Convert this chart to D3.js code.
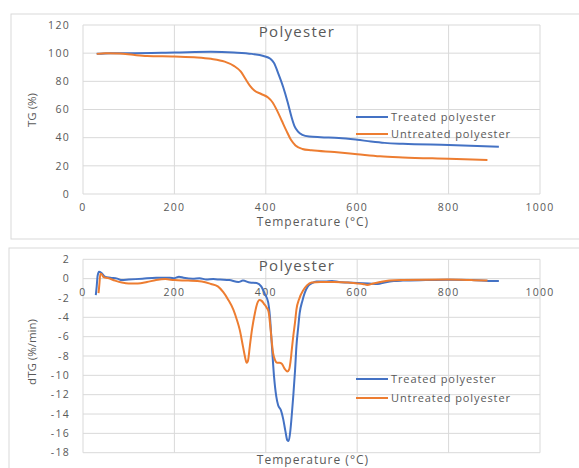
<!DOCTYPE html>
<html>
<head>
<meta charset="utf-8">
<script src="https://cdn.jsdelivr.net/npm/d3@7"></script>
<style>
  body { margin: 0; background: #fff; }
  svg { display: block; font-family: "Open Sans", sans-serif; }
</style>
</head>
<body>
<svg id="chart" width="579" height="468"></svg>
<script>
// series names and colours
const seriesNames = ["Treated polyester", "Untreated polyester"];
const seriesColors = ["#4472C4", "#ED7D31"];

// axis ticks
const xTicks = [0, 200, 400, 600, 800, 1000];
const tgTicks = [0, 20, 40, 60, 80, 100, 120];
const dtgTicks = [2, 0, -2, -4, -6, -8, -10, -12, -14, -16, -18];

// TG curves, [temperature, TG %]
const tgTreated = [
  [30, 99.5], [60, 100], [100, 100], [200, 100.5], [280, 101], [330, 100.5],
  [370, 99.5], [395, 98], [410, 96], [418, 93], [428, 85], [438, 76],
  [448, 65], [456, 55], [463, 48], [470, 44.5], [480, 42], [495, 40.8],
  [520, 40.3], [560, 39.8], [600, 38.5], [630, 37.3], [660, 36.3],
  [700, 35.6], [800, 34.8], [910, 33.6]
];
const tgUntreated = [
  [30, 99.5], [50, 100], [80, 99.8], [110, 98.8], [140, 98], [200, 97.6],
  [250, 97], [280, 96], [310, 94], [330, 91], [345, 87], [355, 82],
  [365, 77], [375, 73.5], [390, 71], [405, 68.5], [415, 65], [425, 59],
  [435, 52], [445, 45], [455, 38.5], [465, 34.5], [480, 32], [500, 31],
  [550, 29.8], [600, 28.3], [650, 26.8], [700, 26], [800, 25], [885, 24.1]
];

// dTG curves, [temperature, dTG %/min]
const dtgTreated = [
  [28, -1.7], [30, -0.8], [32, 0.3], [35, 0.7], [40, 0.6], [48, 0.2],
  [60, 0.1], [75, 0], [85, -0.15], [100, -0.1], [130, 0], [160, 0.1],
  [190, 0.1], [200, 0.05], [210, 0.2], [220, 0.1], [240, 0], [255, 0.05],
  [270, -0.1], [285, -0.05], [300, -0.1], [320, -0.15], [340, -0.35],
  [350, -0.2], [365, -0.4], [380, -0.45], [390, -0.8], [398, -1.6],
  [405, -2.4], [409, -3.9], [413, -6.7], [418, -10.1], [423, -12.2],
  [427, -13.1], [433, -13.6], [438, -14.5], [443, -15.8], [447, -16.7],
  [450, -16.8], [454, -15.6], [457, -14], [460, -12.2], [464, -9.5],
  [467, -7], [471, -5], [474, -3.6], [480, -2.3], [485, -1.5], [492, -0.8],
  [500, -0.5], [511, -0.3], [530, -0.3], [545, -0.25], [560, -0.35],
  [580, -0.4], [600, -0.45], [625, -0.5], [645, -0.55], [660, -0.4],
  [680, -0.25], [700, -0.2], [750, -0.15], [800, -0.12], [850, -0.15],
  [900, -0.25], [910, -0.25]
];
const dtgUntreated = [
  [34, -1.5], [36, -0.5], [38, 0.5], [41, 0.45], [45, 0.15], [55, 0.05],
  [70, -0.2], [85, -0.4], [100, -0.5], [120, -0.5], [140, -0.35],
  [160, -0.15], [180, -0.05], [200, -0.15], [230, -0.2], [260, -0.3],
  [280, -0.55], [295, -0.8], [307, -1.4], [318, -2.2], [329, -3.2],
  [337, -4.3], [343, -5.3], [350, -7], [355, -8.2], [358, -8.7],
  [361, -8.5], [365, -7], [370, -5.2], [376, -3.6], [381, -2.6],
  [386, -2.2], [391, -2.3], [396, -2.6], [402, -3], [406, -3.4],
  [410, -5], [413, -6.5], [416, -7.7], [420, -8.4], [425, -8.7],
  [430, -8.7], [435, -8.8], [441, -9.3], [447, -9.6], [451, -9.4],
  [454, -8.6], [457, -7.3], [460, -6], [464, -4.5], [467, -3.2],
  [473, -2.1], [482, -1.2], [490, -0.7], [500, -0.4], [520, -0.35],
  [550, -0.35], [580, -0.4], [600, -0.5], [612, -0.55], [622, -0.65],
  [635, -0.5], [650, -0.35], [670, -0.2], [700, -0.15], [800, -0.1],
  [850, -0.15], [885, -0.2]
];

const svg = d3.select("#chart");
const grid = "#d9d9d9", textCol = "#595959";

function drawChart(cfg) {
  const g = svg.append("g");

  // chart area frame
  g.append("rect")
    .attr("x", cfg.frame[0]).attr("y", cfg.frame[1])
    .attr("width", cfg.frame[2]).attr("height", cfg.frame[3])
    .attr("fill", "#fff").attr("stroke", "#d9d9d9");

  const x = d3.scaleLinear().domain([0, 1000]).range([83, 540]);
  const y = d3.scaleLinear().domain(cfg.yDomain).range(cfg.yRange);

  // gridlines
  g.append("g").selectAll("line").data(cfg.yTicks).join("line")
    .attr("x1", x(0)).attr("x2", x(1000))
    .attr("y1", d => y(d)).attr("y2", d => y(d))
    .attr("stroke", grid);
  g.append("g").selectAll("line").data(xTicks).join("line")
    .attr("x1", d => x(d)).attr("x2", d => x(d))
    .attr("y1", y(cfg.yDomain[0])).attr("y2", y(cfg.yDomain[1]))
    .attr("stroke", grid);

  // tick labels
  g.append("g").selectAll("text").data(cfg.yTicks).join("text")
    .attr("x", 70).attr("y", d => y(d)).attr("dy", "0.35em")
    .attr("text-anchor", "end")
    .attr("font-size", 10.5).attr("letter-spacing", 1.3)
    .attr("fill", textCol)
    .text(d => d);
  g.append("g").selectAll("text").data(xTicks).join("text")
    .attr("x", d => x(d)).attr("y", cfg.xLabelY).attr("dy", "0.35em")
    .attr("text-anchor", "middle")
    .attr("font-size", 10.5).attr("letter-spacing", 1.3)
    .attr("fill", textCol)
    .text(d => d);

  // axis titles
  g.append("text")
    .attr("x", 313).attr("y", cfg.xTitleY).attr("dy", "0.35em")
    .attr("text-anchor", "middle")
    .attr("font-size", 12).attr("letter-spacing", 1)
    .attr("fill", textCol)
    .text("Temperature (°C)");
  g.append("text")
    .attr("transform", `translate(32,${cfg.yTitleY}) rotate(-90)`)
    .attr("dy", "0.35em")
    .attr("text-anchor", "middle")
    .attr("font-size", 11.5)
    .attr("fill", textCol)
    .text(cfg.yTitle);

  // chart title
  g.append("text")
    .attr("x", 297).attr("y", cfg.titleY).attr("dy", "0.35em")
    .attr("text-anchor", "middle")
    .attr("font-size", 15).attr("letter-spacing", 1.3)
    .attr("fill", textCol)
    .text("Polyester");

  // lines
  const line = d3.line()
    .x(d => x(d[0])).y(d => y(d[1]))
    .curve(d3.curveMonotoneX);
  cfg.series.forEach((s, i) => {
    g.append("path")
      .datum(s)
      .attr("fill", "none")
      .attr("stroke", seriesColors[i])
      .attr("stroke-width", 2)
      .attr("stroke-linejoin", "round")
      .attr("d", line);
  });

  // legend
  seriesNames.forEach((name, i) => {
    const ly = cfg.legendY[i];
    g.append("line")
      .attr("x1", 356).attr("x2", 388)
      .attr("y1", ly).attr("y2", ly)
      .attr("stroke", seriesColors[i]).attr("stroke-width", 2);
    g.append("text")
      .attr("x", 391).attr("y", ly).attr("dy", "0.35em")
      .attr("font-size", 11).attr("letter-spacing", 0.9)
      .attr("fill", textCol)
      .text(name);
  });
}

drawChart({
  frame: [11, 14, 600, 225],
  yDomain: [0, 120], yRange: [194, 25], yTicks: tgTicks,
  xLabelY: 207, xTitleY: 222, yTitle: "TG (%)", yTitleY: 110,
  titleY: 32, legendY: [117, 134],
  series: [tgTreated, tgUntreated]
});

drawChart({
  frame: [9, 248, 600, 240],
  yDomain: [-18, 2], yRange: [452.7, 259.3], yTicks: dtgTicks,
  xLabelY: 292, xTitleY: 460, yTitle: "dTG (%/min)", yTitleY: 352,
  titleY: 266, legendY: [379, 398],
  series: [dtgTreated, dtgUntreated]
});
</script>
</body>
</html>
